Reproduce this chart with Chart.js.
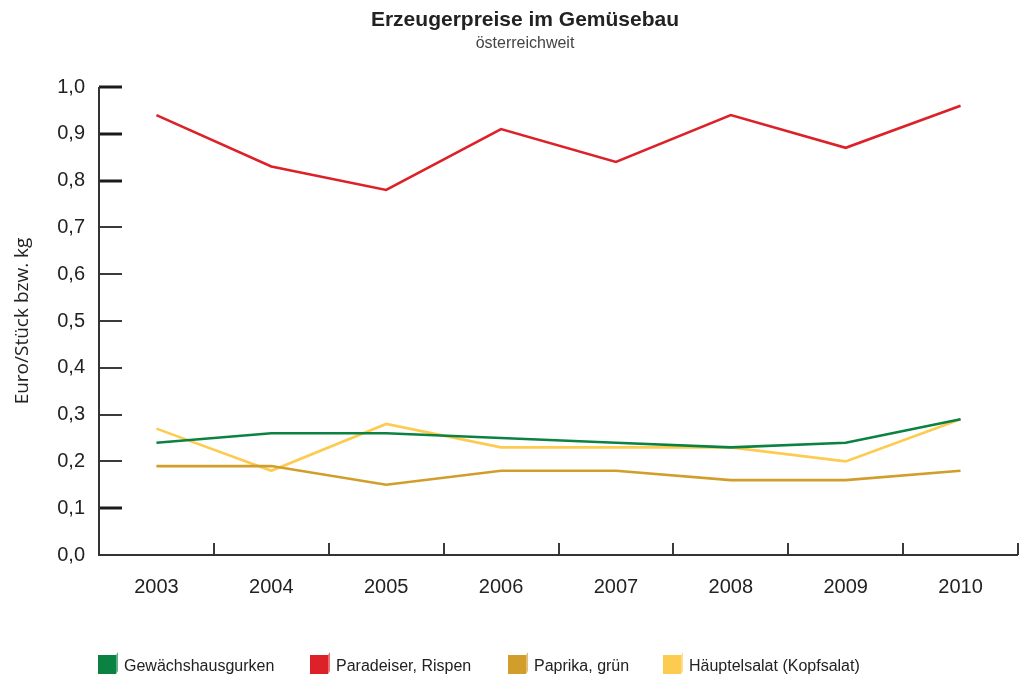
<!DOCTYPE html>
<html>
<head>
<meta charset="utf-8">
<script src="https://cdn.jsdelivr.net/npm/chart.js@4.4.1/dist/chart.umd.min.js"></script>
<style>
  html, body { margin: 0; padding: 0; background: #fff; }
  #wrap { width: 1022px; height: 678px; position: relative; }
</style>
</head>
<body>
<div id="wrap"><canvas id="c" width="1022" height="678"></canvas></div>
<script>
const years = ['2003', '2004', '2005', '2006', '2007', '2008', '2009', '2010'];
const gurken = [0.24, 0.26, 0.26, 0.25, 0.24, 0.23, 0.24, 0.29];
const paradeiser = [0.94, 0.83, 0.78, 0.91, 0.84, 0.94, 0.87, 0.96];
const paprika = [0.19, 0.19, 0.15, 0.18, 0.18, 0.16, 0.16, 0.18];
const salat = [0.27, 0.18, 0.28, 0.23, 0.23, 0.23, 0.20, 0.29];
const seriesNames = ['Gewächshausgurken', 'Paradeiser, Rispen', 'Paprika, grün', 'Häuptelsalat (Kopfsalat)'];
const yTicks = [0, 0.1, 0.2, 0.3, 0.4, 0.5, 0.6, 0.7, 0.8, 0.9, 1.0];
const boldTicks = [0.1, 0.8, 0.9, 1.0];

const colors = ['#0b8242', '#dc2128', '#d19e2c', '#fdcb4f'];
const FONT = '"Liberation Sans", Arial, Helvetica, sans-serif';

const axisPlugin = {
  id: 'axisDeco',
  afterDatasetsDraw(chart) {
    const ctx = chart.ctx;
    const y = chart.scales.y, x = chart.scales.x;
    const left = chart.chartArea.left, bottom = chart.chartArea.bottom, right = chart.chartArea.right;
    ctx.save();
    yTicks.forEach(v => {
      const py = Math.round(y.getPixelForValue(v));
      if (v === 0) return;
      const bold = boldTicks.some(b => Math.abs(b - v) < 1e-9);
      ctx.strokeStyle = bold ? '#1a1a1a' : '#3a3a3a';
      ctx.lineWidth = bold ? 3 : 2;
      ctx.beginPath();
      ctx.moveTo(left, py);
      ctx.lineTo(left + 23, py);
      ctx.stroke();
    });
    ctx.strokeStyle = '#3a3a3a';
    ctx.lineWidth = 2;
    for (let i = 1; i <= years.length; i++) {
      const px = Math.round(x.getPixelForValue(i - 0.5));
      ctx.beginPath();
      ctx.moveTo(px, bottom);
      ctx.lineTo(px, bottom - 12);
      ctx.stroke();
    }
    ctx.strokeStyle = '#333';
    ctx.lineWidth = 2;
    ctx.beginPath();
    ctx.moveTo(left, chart.chartArea.top);
    ctx.lineTo(left, bottom);
    ctx.lineTo(right, bottom);
    ctx.stroke();
    ctx.restore();
  },
  afterDraw(chart) {
    const ctx = chart.ctx;
    const boxX = [98, 310, 508, 663];
    const ly = 665;
    ctx.save();
    ctx.font = '16px ' + FONT;
    ctx.textBaseline = 'middle';
    chart.data.datasets.forEach((ds, i) => {
      const bx = boxX[i];
      const c = ds.borderColor;
      ctx.fillStyle = c;
      ctx.fillRect(bx, ly - 10, 18, 19);
      ctx.globalAlpha = 0.5;
      ctx.fillStyle = '#ffffff';
      ctx.beginPath();
      ctx.moveTo(bx, ly - 10);
      ctx.lineTo(bx + 2, ly - 13);
      ctx.lineTo(bx + 20, ly - 13);
      ctx.lineTo(bx + 18, ly - 10);
      ctx.closePath();
      ctx.fill();
      ctx.globalAlpha = 0.65;
      ctx.fillStyle = c;
      ctx.beginPath();
      ctx.moveTo(bx + 18, ly - 10);
      ctx.lineTo(bx + 20, ly - 13);
      ctx.lineTo(bx + 20, ly + 6);
      ctx.lineTo(bx + 18, ly + 9);
      ctx.closePath();
      ctx.fill();
      ctx.globalAlpha = 1;
      ctx.fillStyle = '#222';
      ctx.fillText(ds.label, bx + 26, ly + 2);
    });
    ctx.restore();
  }
};

const makeDs = (label, data, color) => ({
  label, data,
  borderColor: color,
  backgroundColor: color,
  borderWidth: 2.6,
  pointRadius: 0,
  pointHoverRadius: 0,
  tension: 0,
  fill: false
});

new Chart(document.getElementById('c'), {
  type: 'line',
  data: {
    labels: years,
    datasets: [
      makeDs(seriesNames[0], gurken, colors[0]),
      makeDs(seriesNames[1], paradeiser, colors[1]),
      makeDs(seriesNames[2], paprika, colors[2]),
      makeDs(seriesNames[3], salat, colors[3])
    ]
  },
  options: {
    responsive: false,
    animation: false,
    devicePixelRatio: 1,
    layout: { padding: { left: 32, right: 4, top: 0, bottom: 0 } },
    plugins: {
      legend: { display: false },
      tooltip: { enabled: false },
      title: {
        display: true,
        text: 'Erzeugerpreise im Gemüsebau',
        color: '#222',
        font: { family: FONT, size: 21, weight: 'bold' },
        padding: { top: 8, bottom: 0 }
      },
      subtitle: {
        display: true,
        text: 'österreichweit',
        color: '#444',
        font: { family: FONT, size: 16 },
        padding: { top: 1, bottom: 33.6 }
      }
    },
    scales: {
      x: {
        type: 'category',
        offset: true,
        grid: { display: false, drawTicks: false },
        border: { display: false },
        ticks: { color: '#222', font: { family: FONT, size: 20 }, padding: 20, maxRotation: 0 },
        afterFit(s) { s.height = 123; }
      },
      y: {
        min: 0, max: 1,
        afterBuildTicks(s) { s.ticks = yTicks.map(v => ({ value: v })); },
        grid: { display: false, drawTicks: false },
        border: { display: false },
        ticks: {
          color: '#222',
          font: { family: FONT, size: 20 },
          padding: 14,
          callback: v => Number(v).toFixed(1).replace('.', ',')
        },
        title: {
          display: true,
          text: 'Euro/Stück bzw. kg',
          color: '#222',
          font: { family: '"Open Sans", "Noto Sans", sans-serif', size: 19 },
          padding: { top: -21, bottom: 0 }
        },
        afterFit(s) { s.width = 67; }
      }
    }
  },
  plugins: [axisPlugin]
});
</script>
</body>
</html>
